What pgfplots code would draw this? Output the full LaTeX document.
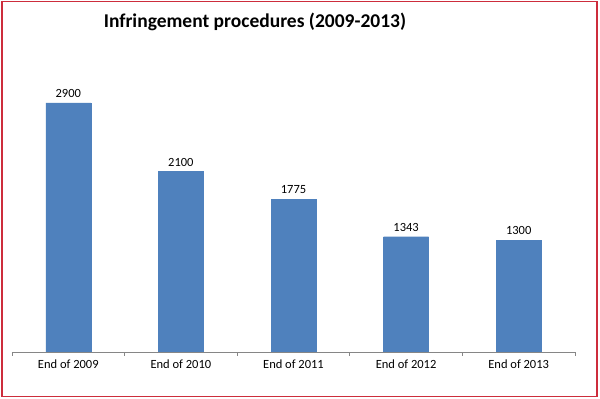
\documentclass[border=0pt]{standalone}
\usepackage{pgfplots}
\pgfplotsset{compat=1.18}
\usepackage{fontspec}
\setmainfont{Carlito}
\definecolor{barblue}{HTML}{4F81BD}
\definecolor{axisgray}{HTML}{868686}
\definecolor{frame}{RGB}{205,45,60}
\begin{document}
\begin{tikzpicture}[x=1pt,y=1pt]
\useasboundingbox (0,0) rectangle (600,399);
\path[fill=white] (0,0) rectangle (600,399);
\draw[frame, line width=1.3pt] (2,2.5) rectangle (597,397.5);
\node[font=\fontsize{19.5}{23}\selectfont\bfseries] at (255,377) {Infringement procedures (2009-2013)};
\begin{axis}[
  at={(12pt,47pt)}, anchor=south west,
  scale only axis, width=563pt, height=292pt,
  xmin=-0.5, xmax=4.5, ymin=0, ymax=3400,
  axis y line=none,
  axis x line*=bottom,
  x axis line style={axisgray, line width=0.8pt, -},
  xtick={0,1,2,3,4},
  xticklabels={End of 2009,End of 2010,End of 2011,End of 2012,End of 2013},
  major tick length=0pt,
  minor xtick={-0.5,0.5,1.5,2.5,3.5,4.5},
  minor tick length=4pt,
  minor tick style={axisgray, line width=0.8pt},
  tick align=outside,
  tick label style={font=\fontsize{12.5}{14}\selectfont},
  xticklabel style={yshift=-4pt},
  nodes near coords,
  every node near coord/.append style={font=\fontsize{12.5}{14}\selectfont, yshift=2pt},
  /pgf/number format/assume math mode=true,
  /pgf/number format/set thousands separator={},
  ybar, bar width=45pt,
]
\addplot[fill=barblue, draw=barblue, line width=0.3pt] coordinates {(0,2900) (1,2100) (2,1775) (3,1343) (4,1300)};
\end{axis}
\end{tikzpicture}
\end{document}
